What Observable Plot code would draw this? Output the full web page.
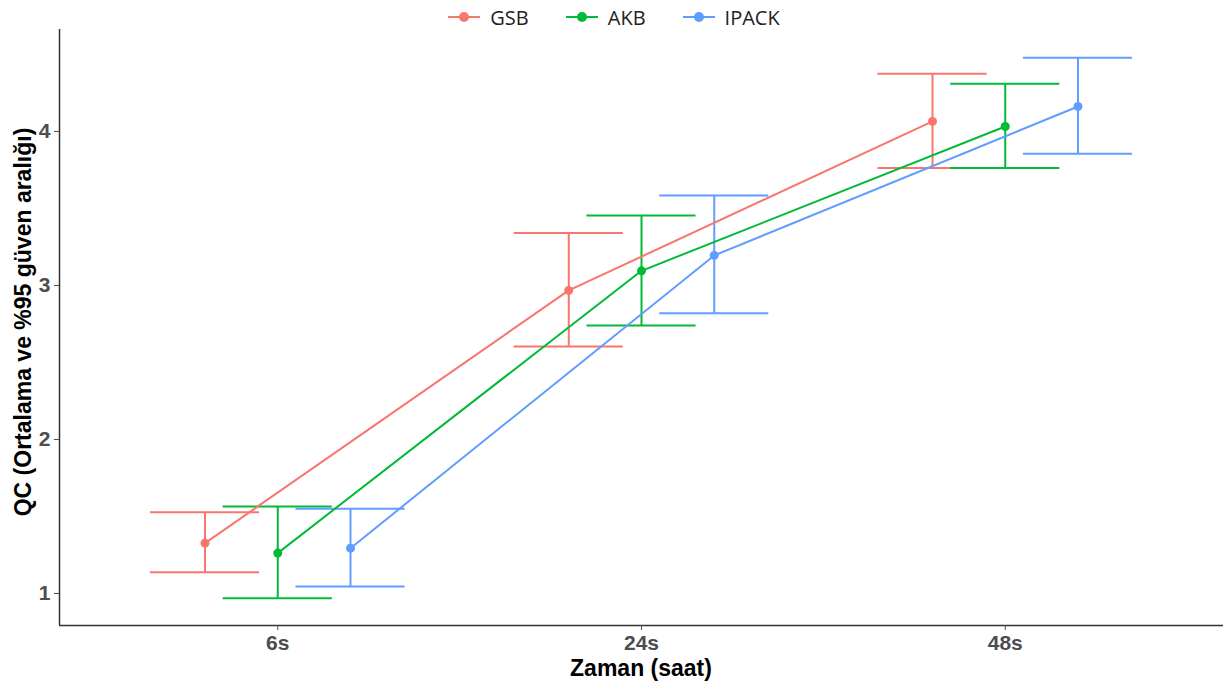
<!DOCTYPE html>
<html>
<head>
<meta charset="utf-8">
<script src="https://cdn.jsdelivr.net/npm/d3@7"></script>
<script src="https://cdn.jsdelivr.net/npm/@observablehq/plot@0.6"></script>
<style>
  html, body { margin: 0; padding: 0; background: #fff; }
  #wrap { position: relative; width: 1231px; height: 691px; }
  #legend { position: absolute; top: 4px; left: -2px; width: 1231px; height: 26px; display: flex; justify-content: center; gap: 36px; font-family: "Open Sans", sans-serif; font-size: 20px; color: #222; }
  .item { display: flex; align-items: center; }
  .item svg { margin-right: 9px; }
  #ylab { position: absolute; left: 23px; top: 322px; transform: translate(-50%, -50%) rotate(-90deg); white-space: nowrap; font-family: "Liberation Sans", Arial, sans-serif; font-weight: bold; font-size: 23px; color: #000; }
  #xlab { position: absolute; left: 641px; top: 668px; transform: translate(-50%, -50%); white-space: nowrap; font-family: "Liberation Sans", Arial, sans-serif; font-weight: bold; font-size: 23px; color: #000; }
</style>
</head>
<body>
<div id="wrap">
  <div id="chart"></div>
  <div id="legend"></div>
  <div id="ylab">QC (Ortalama ve %95 güven aralığı)</div>
  <div id="xlab">Zaman (saat)</div>
</div>
<script>
const times = ["6s", "24s", "48s"];
const groups = ["GSB", "AKB", "IPACK"];
const colors = ["#F8766D", "#00BA38", "#619CFF"];
const yTicks = [1, 2, 3, 4];

const gsbMean = [1.327, 2.968, 4.065];
const gsbLow  = [1.138, 2.604, 3.762];
const gsbHigh = [1.528, 3.340, 4.375];

const akbMean = [1.262, 3.095, 4.032];
const akbLow  = [0.969, 2.740, 3.762];
const akbHigh = [1.565, 3.455, 4.310];

const ipackMean = [1.294, 3.195, 4.162];
const ipackLow  = [1.045, 2.820, 3.855];
const ipackHigh = [1.550, 3.584, 4.479];

const dodge = 0.4;   // total dodge width (data units of time index)
const capW = 0.3;    // errorbar width

const series = [
  {g: "GSB", mean: gsbMean, low: gsbLow, high: gsbHigh},
  {g: "AKB", mean: akbMean, low: akbLow, high: akbHigh},
  {g: "IPACK", mean: ipackMean, low: ipackLow, high: ipackHigh}
];

const data = [];
series.forEach((s, gi) => {
  times.forEach((t, ti) => {
    const off = (gi - 1) * dodge / 2;
    data.push({group: s.g, time: t, x: ti + off, mean: s.mean[ti], low: s.low[ti], high: s.high[ti]});
  });
});

const colorScale = {domain: groups, range: colors};
const yDomain = [0.792, 4.662];
const xDomain = [-0.6, 2.6];
const tickFont = {fill: "#4d4d4d", fontSize: 21, fontWeight: "bold", fontFamily: "Liberation Sans, Arial, sans-serif"};

const chart = Plot.plot({
  width: 1231,
  height: 691,
  marginLeft: 59,
  marginRight: 8,
  marginTop: 29,
  marginBottom: 66,
  style: {background: "transparent", overflow: "visible"},
  x: {domain: xDomain},
  y: {domain: yDomain},
  color: colorScale,
  marks: [
    Plot.ruleX([xDomain[0]], {stroke: "#333", strokeWidth: 1.5}),
    Plot.ruleY([yDomain[0]], {stroke: "#333", strokeWidth: 1.5}),
    Plot.axisX([0, 1, 2], {tickFormat: i => times[i], tickSize: 5, tickPadding: 5, stroke: "#4d4d4d", ...tickFont, label: null}),
    Plot.axisY(yTicks, {tickFormat: d => String(d), tickSize: 5, tickPadding: 4, stroke: "#4d4d4d", ...tickFont, label: null}),
    Plot.ruleX(data, {x: "x", y1: "low", y2: "high", stroke: "group", strokeWidth: 2}),
    Plot.ruleY(data, {y: "high", x1: d => d.x - capW / 2, x2: d => d.x + capW / 2, stroke: "group", strokeWidth: 2}),
    Plot.ruleY(data, {y: "low", x1: d => d.x - capW / 2, x2: d => d.x + capW / 2, stroke: "group", strokeWidth: 2}),
    Plot.line(data, {x: "x", y: "mean", z: "group", stroke: "group", strokeWidth: 2}),
    Plot.dot(data, {x: "x", y: "mean", fill: "group", r: 4.5})
  ]
});
document.getElementById("chart").appendChild(chart);

const legend = document.getElementById("legend");
groups.forEach((g, i) => {
  const item = document.createElement("div");
  item.className = "item";
  item.innerHTML = `<svg width="34" height="20"><line x1="1" y1="10" x2="33" y2="10" stroke="${colors[i]}" stroke-width="2"/><circle cx="17" cy="10" r="5" fill="${colors[i]}"/></svg><span>${g}</span>`;
  legend.appendChild(item);
});
</script>
</body>
</html>
